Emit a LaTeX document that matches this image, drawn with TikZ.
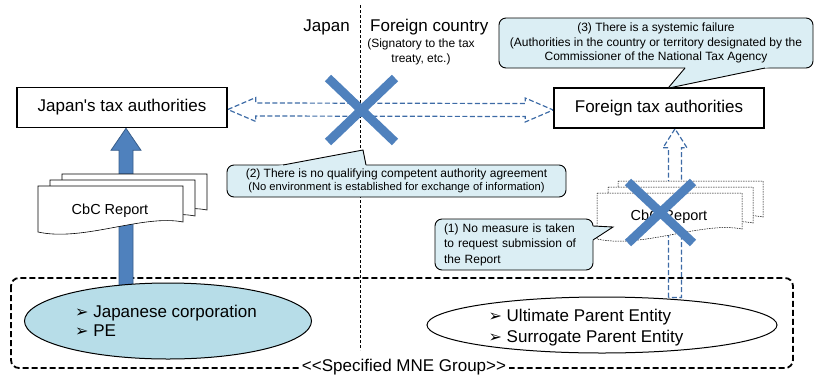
\documentclass[tikz,border=0pt]{standalone}
\usepackage{fontspec}
\setmainfont{Liberation Sans}
\newfontfamily\plainsans{Liberation Sans}
\newfontfamily\dingfont{DejaVu Sans}
\usetikzlibrary{calc,shapes.geometric,backgrounds}

\definecolor{crossblue}{HTML}{4F81BD}
\definecolor{crossedge}{HTML}{385D8A}
\definecolor{calloutfill}{HTML}{DBEEF4}
\definecolor{corpfill}{HTML}{B7DDE8}
\definecolor{hollowblue}{HTML}{3D6BA6}

\newcommand{\bigfont}{\fontsize{17}{20}\selectfont}
\newcommand{\smallfont}{\fontsize{12}{14.5}\selectfont}
\newcommand{\cbcfont}{\fontsize{14.5}{16}\selectfont}
\newcommand{\pointer}{{\dingfont\fontsize{16}{16}\selectfont ➢}\ }
% one sheet of the CbC report, top left corner at (#1,#2)
\newcommand{\cbcpage}[3]{%
        \begin{scope}[shift={(#1,#2)}]
        \draw[#3] (0,0) -- (145,0) -- (145,36)
        .. controls (105,28) and (45,56) .. (0,46) -- cycle ;
        \end{scope}}

\tikzset{
        authority/.style={draw,line width=1.6pt,inner sep=0pt,
                minimum width=210pt,minimum height=40pt,font=\bigfont},
        calloutbox/.style={draw,fill=calloutfill,line width=0.9pt,
                rounded corners=7pt,inner sep=0pt,font=\smallfont,align=center},
        crossout/.style={crossblue,line width=9pt},
        hollow/.style={hollowblue,line width=1.2pt,dash pattern=on 5pt off 2.5pt},
        docpage/.style={draw,fill=white,line width=0.6pt},
        dottedpage/.style={draw,fill=white,line width=0.5pt,dash pattern=on 1.5pt off 1pt},
}

\begin{document}
\begin{tikzpicture}[x=1pt,y=-1pt]
        \useasboundingbox (0,0) rectangle (815,376) ;
        % Japan / foreign country
        \node[anchor=east,font=\bigfont,inner sep=0pt] (japan) at (350,27) {Japan} ;
        \node[anchor=west,font=\bigfont,inner sep=0pt] (foreign) at (370,27) {Foreign country} ;
        \node[font=\smallfont,align=center,inner sep=0pt] (treaty) at (421,52)
        {(Signatory to the tax\\treaty, etc.)} ;
        \node[authority] (jtax) at (122,107.5) {Japan{\plainsans'}s tax authorities} ;
        \node[authority] (ftax) at (659,108) {Foreign tax authorities} ;
        % members of the group
        \node[ellipse,draw,fill=corpfill,line width=1pt,
        minimum width=287pt,minimum height=76pt] (jcorp) at (168,321) {} ;
        \node[font=\fontsize{17}{18.5}\selectfont,align=left,inner sep=0pt] (jcorptext)
        at (166,321) {\pointer Japanese corporation\\\pointer PE} ;
        \node[ellipse,draw,fill=white,line width=1pt,
        minimum width=350pt,minimum height=56pt] (parent) at (602,325) {} ;
        \node[font=\fontsize{17}{21}\selectfont,align=left,inner sep=0pt] (parenttext)
        at (586,327.5) {\pointer Ultimate Parent Entity\\\pointer Surrogate Parent Entity} ;
        \node[fill=white,font=\bigfont,inner sep=3pt] (mne) at (404,367)
        {<{}<Specified MNE Group>{}>} ;

        \begin{scope}[on background layer]
        \draw[line width=0.6pt,dash pattern=on 3pt off 2pt] (360,5) -- (360,350) ;
        \draw[line width=1.8pt,dash pattern=on 6pt off 3pt,rounded corners=8pt]
        (11,278) rectangle (793,368) ;
        % report filed in Japan
        \coordinate (jtip) at ([xshift=4pt]jtax.south) ;
        \coordinate (jfoot) at ([yshift=-3pt]jtip |- jcorp.north) ;
        \draw[crossedge,fill=crossblue,line width=0.8pt]
        ($(jfoot)+(-7,0)$) -- ($(jtip)+(-7,22)$) -- ($(jtip)+(-15,22)$) -- (jtip)
        -- ($(jtip)+(15,22)$) -- ($(jtip)+(7,22)$) -- ($(jfoot)+(7,0)$) -- cycle ;
        % exchange between the authorities
        \coordinate (xl) at ([yshift=-2pt]jtax.east) ;
        \coordinate (xr) at ([yshift=-2pt]ftax.west) ;
        \draw[hollow] (xl) -- ($(xl)+(28,-12)$) -- ($(xl)+(28,-6.5)$) -- ($(xr)+(-28,-6.5)$)
        -- ($(xr)+(-28,-12)$) -- (xr) -- ($(xr)+(-28,12)$) -- ($(xr)+(-28,6.5)$)
        -- ($(xl)+(28,6.5)$) -- ($(xl)+(28,12)$) -- cycle ;
        % report not filed abroad
        \coordinate (ftip) at ([xshift=16pt]ftax.south) ;
        \coordinate (ffoot) at ([yshift=-1pt]ftip |- parent.north) ;
        \draw[hollow] ($(ffoot)+(-6.5,0)$) -- ($(ftip)+(-6.5,19)$) -- ($(ftip)+(-12,19)$) -- (ftip)
        -- ($(ftip)+(12,19)$) -- ($(ftip)+(6.5,19)$) -- ($(ffoot)+(6.5,0)$) -- cycle ;
        \end{scope}

        % CbC reports
        \cbcpage{62}{174}{docpage}
        \cbcpage{50}{180}{docpage}
        \cbcpage{38}{186}{docpage}
        \node[font=\cbcfont] (jreport) at (110,211) {CbC Report} ;
        \cbcpage{618}{181}{dottedpage}
        \cbcpage{608}{187}{dottedpage}
        \cbcpage{597}{193}{dottedpage}
        \node[font=\cbcfont] (freport) at (669,217) {CbC Report} ;
        \draw[crossout] (328,78) -- (395,142) (395,78) -- (328,142) ;
        \draw[crossout] (628,182) -- (693,243) (693,182) -- (628,243) ;

        % (3)
        \node[calloutbox,minimum width=314pt,minimum height=50pt] (failure) at (656,43)
        {(3) There is a systemic failure\\(Authorities in the country or territory designated by the\\Commissioner of the National Tax Agency} ;
        \coordinate (failtip) at ([xshift=9pt,yshift=-1pt]ftax.north) ;
        \fill[calloutfill] (failtip) -- ($(failtip)!1.15!(685,68)$) -- ($(failtip)!1.15!(765,68)$) -- cycle ;
        \draw[line width=0.9pt] (685,68) -- (failtip) -- (765,68) ;
        % (2)
        \node[calloutbox,font=\fontsize{12}{13}\selectfont,minimum width=339pt,minimum height=32pt]
        (noagree) at (396.5,181)
        {(2) There is no qualifying competent authority agreement\\
        {\fontsize{11.2}{13}\selectfont (No environment is established for exchange of information)}} ;
        \coordinate (agreetip) at (363,150) ;
        \fill[calloutfill] (agreetip) -- ($(agreetip)!1.15!(283,165)$) -- ($(agreetip)!1.15!(366,165)$) -- cycle ;
        \draw[line width=0.9pt] (283,165) -- (agreetip) -- (366,165) ;
        % (1)
        \node[calloutbox,font=\fontsize{12}{15.5}\selectfont,align=left,text width=140pt,
        minimum width=158pt,minimum height=51pt] (nomeasure) at (514,244.5)
        {(1) No measure is taken\\to request submission of\\the Report} ;
        \coordinate (measuretip) at (613,227) ;
        \fill[calloutfill] (measuretip) -- ($(measuretip)!1.15!(593,226)$) -- ($(measuretip)!1.15!(593,240)$) -- cycle ;
        \draw[line width=0.9pt] (593,226) -- (measuretip) -- (593,240) ;
\end{tikzpicture}
\end{document}
